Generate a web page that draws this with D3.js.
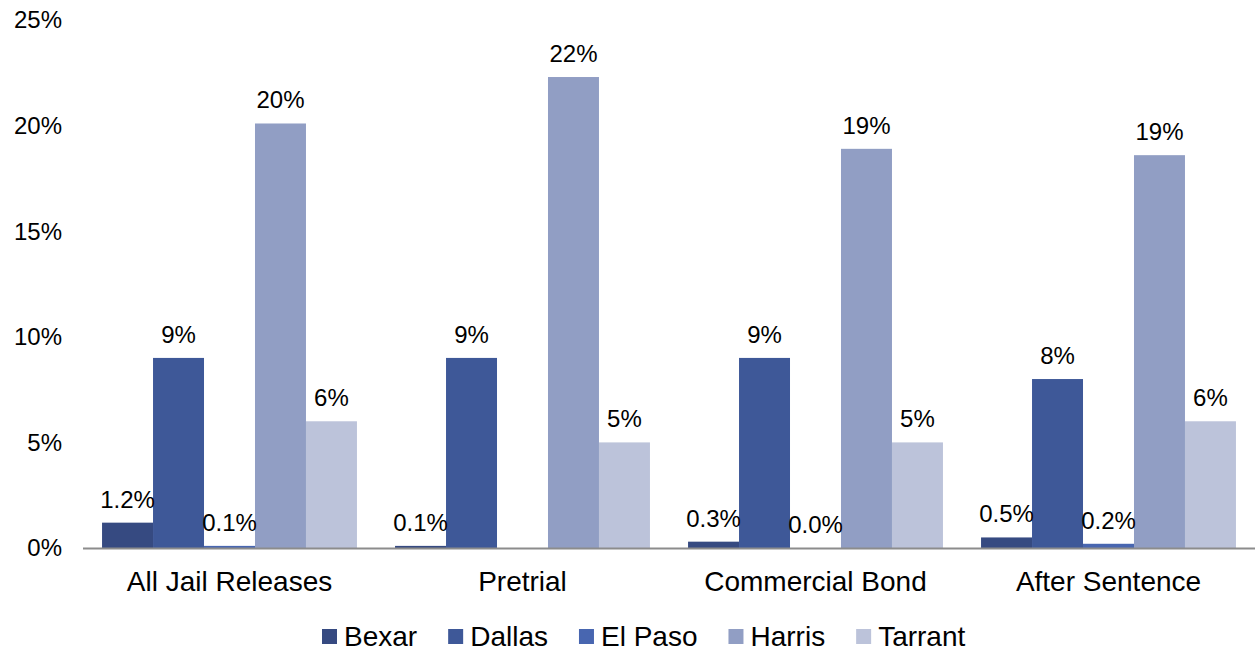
<!DOCTYPE html>
<html>
<head>
<meta charset="utf-8">
<script src="https://cdn.jsdelivr.net/npm/d3@7"></script>
<style>
  html, body { margin: 0; padding: 0; background: #fff; }
  svg { display: block; font-family: "Liberation Sans", Arial, sans-serif; }
</style>
</head>
<body>
<svg id="chart" width="1259" height="652"></svg>
<script>
const categories = ["All Jail Releases", "Pretrial", "Commercial Bond", "After Sentence"];
const seriesNames = ["Bexar", "Dallas", "El Paso", "Harris", "Tarrant"];
const bexar   = [1.2, 0.1, 0.3, 0.5];
const dallas  = [9.0, 9.0, 9.0, 8.0];
const elPaso  = [0.1, null, 0.0, 0.2];
const harris  = [20.1, 22.3, 18.9, 18.6];
const tarrant = [6.0, 5.0, 5.0, 6.0];
const bexarLabels   = ["1.2%", "0.1%", "0.3%", "0.5%"];
const dallasLabels  = ["9%", "9%", "9%", "8%"];
const elPasoLabels  = ["0.1%", "", "0.0%", "0.2%"];
const harrisLabels  = ["20%", "22%", "19%", "19%"];
const tarrantLabels = ["6%", "5%", "5%", "6%"];
const yTicks = [0, 5, 10, 15, 20, 25];
const colors = ["#364a81", "#3e5898", "#4866b0", "#919ec4", "#bcc3da"];

const seriesValues = [bexar, dallas, elPaso, harris, tarrant];
const seriesLabels = [bexarLabels, dallasLabels, elPasoLabels, harrisLabels, tarrantLabels];

const svg = d3.select("#chart");
const x0 = d3.scaleBand().domain(categories).range([83, 1255]).paddingInner(0.13).paddingOuter(0.065);
const x1 = d3.scaleBand().domain(seriesNames).range([0, x0.bandwidth()]);
const y = d3.scaleLinear().domain([0, 25]).range([548, 20]);

// y tick labels
svg.append("g").selectAll("text").data(yTicks).join("text")
  .attr("x", 62).attr("y", d => y(d)).attr("dy", "0.35em")
  .attr("text-anchor", "end").attr("font-size", 24).attr("fill", "#000")
  .text(d => d + "%");

// bars
const groups = svg.append("g").selectAll("g").data(categories).join("g")
  .attr("transform", c => `translate(${x0(c)},0)`);

groups.each(function(c, ci) {
  const g = d3.select(this);
  const rows = seriesNames.map((s, si) => ({ s, si, v: seriesValues[si][ci], lab: seriesLabels[si][ci] }));
  g.selectAll("rect").data(rows.filter(r => r.v !== null)).join("rect")
    .attr("x", r => x1(r.s)).attr("width", x1.bandwidth())
    .attr("y", r => y(r.v)).attr("height", r => y(0) - y(r.v))
    .attr("fill", r => colors[r.si]);
  g.selectAll("text").data(rows.filter(r => r.v !== null && r.lab)).join("text")
    .attr("x", r => x1(r.s) + x1.bandwidth() / 2)
    .attr("y", r => y(r.v) - 15)
    .attr("text-anchor", "middle").attr("font-size", 24).attr("fill", "#000")
    .text(r => r.lab);
});

// x axis line
svg.append("line").attr("x1", 83).attr("x2", 1255).attr("y1", 548.5).attr("y2", 548.5)
  .attr("stroke", "#8c8c8c").attr("stroke-width", 2);

// category labels
svg.append("g").selectAll("text").data(categories).join("text")
  .attr("x", c => x0(c) + x0.bandwidth() / 2).attr("y", 591)
  .attr("text-anchor", "middle").attr("font-size", 28).attr("fill", "#000")
  .text(c => c);

// legend
const legend = svg.append("g");
let lx = 322;
seriesNames.forEach((s, i) => {
  legend.append("rect").attr("x", lx).attr("y", 629).attr("width", 15).attr("height", 15).attr("fill", colors[i]);
  const t = legend.append("text").attr("x", lx + 22).attr("y", 645.5)
    .attr("font-size", 28).attr("fill", "#000").text(s);
  lx += 22 + t.node().getComputedTextLength() + 31;
});
</script>
</body>
</html>
